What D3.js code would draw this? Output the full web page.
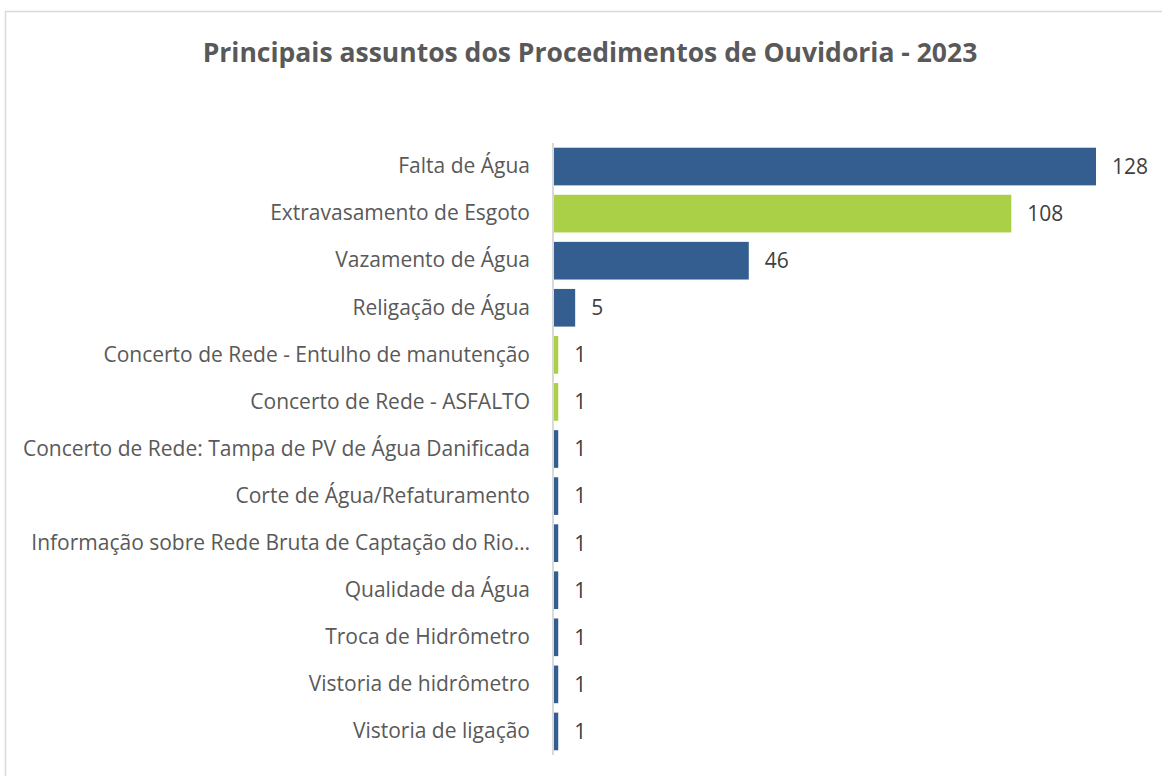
<!DOCTYPE html>
<html>
<head>
<meta charset="utf-8">
<script src="https://cdn.jsdelivr.net/npm/d3@7"></script>
<style>
  body { margin: 0; background: #fff; }
  svg { display: block; font-family: "Open Sans", sans-serif; }
</style>
</head>
<body>
<div id="chart"></div>
<script>
// dados
const categorias = [
  'Falta de Água',
  'Extravasamento de Esgoto',
  'Vazamento de Água',
  'Religação de Água',
  'Concerto de Rede - Entulho de manutenção',
  'Concerto de Rede - ASFALTO',
  'Concerto de Rede: Tampa de PV de Água Danificada',
  'Corte de Água/Refaturamento',
  'Informação sobre Rede Bruta de Captação do Rio…',
  'Qualidade da Água',
  'Troca de Hidrômetro',
  'Vistoria de hidrômetro',
  'Vistoria de ligação'
];
const valores = [128, 108, 46, 5, 1, 1, 1, 1, 1, 1, 1, 1, 1];
const grupos = ['a', 'b', 'a', 'a', 'b', 'b', 'a', 'a', 'a', 'a', 'a', 'a', 'a'];
const titulo = 'Principais assuntos dos Procedimentos de Ouvidoria - 2023';

const width = 1162;
const height = 776;
const margin = { top: 143, right: 66, bottom: 21, left: 554 };

const svg = d3.select('#chart')
  .append('svg')
  .attr('width', width)
  .attr('height', height);

// moldura
svg.append('rect')
  .attr('x', 5.5)
  .attr('y', 11.5)
  .attr('width', width + 10)
  .attr('height', height + 10)
  .attr('fill', 'none')
  .attr('stroke', '#d9d9d9')
  .attr('stroke-width', 1.5);

svg.append('text')
  .attr('x', 590)
  .attr('y', 62)
  .attr('text-anchor', 'middle')
  .attr('font-size', 26.5)
  .attr('font-weight', 'bold')
  .attr('fill', '#595959')
  .text(titulo);

const x = d3.scaleLinear()
  .domain([0, 128])
  .range([margin.left, 1096]);

const y = d3.scaleBand()
  .domain(categorias)
  .range([margin.top, height - margin.bottom])
  .paddingInner(0.2)
  .paddingOuter(0.1);

const cor = d3.scaleOrdinal()
  .domain(['a', 'b'])
  .range(['#335e8f', '#a9d046']);

const dados = categorias.map((c, i) => ({ cat: c, val: valores[i], grupo: grupos[i] }));

svg.append('g')
  .selectAll('rect')
  .data(dados)
  .enter()
  .append('rect')
  .attr('x', x(0))
  .attr('y', d => y(d.cat))
  .attr('width', d => x(d.val) - x(0))
  .attr('height', y.bandwidth())
  .attr('fill', d => cor(d.grupo));

// eixo vertical
const eixo = svg.append('g')
  .attr('transform', `translate(${margin.left - 1},0)`)
  .call(d3.axisLeft(y).tickSize(0).tickPadding(23));
eixo.select('.domain')
  .attr('stroke', '#d9d9d9')
  .attr('stroke-width', 2)
  .attr('d', `M0,${margin.top}V${height - margin.bottom}`);
eixo.selectAll('text')
  .attr('font-family', '"Open Sans", sans-serif')
  .attr('font-size', 21)
  .attr('fill', '#595959');

// rótulos de valor
svg.append('g')
  .selectAll('text')
  .data(dados)
  .enter()
  .append('text')
  .attr('x', d => x(d.val) + 16)
  .attr('y', d => y(d.cat) + y.bandwidth() / 2)
  .attr('dy', '0.35em')
  .attr('font-size', 21)
  .attr('fill', '#404040')
  .text(d => d.val);
</script>
</body>
</html>
